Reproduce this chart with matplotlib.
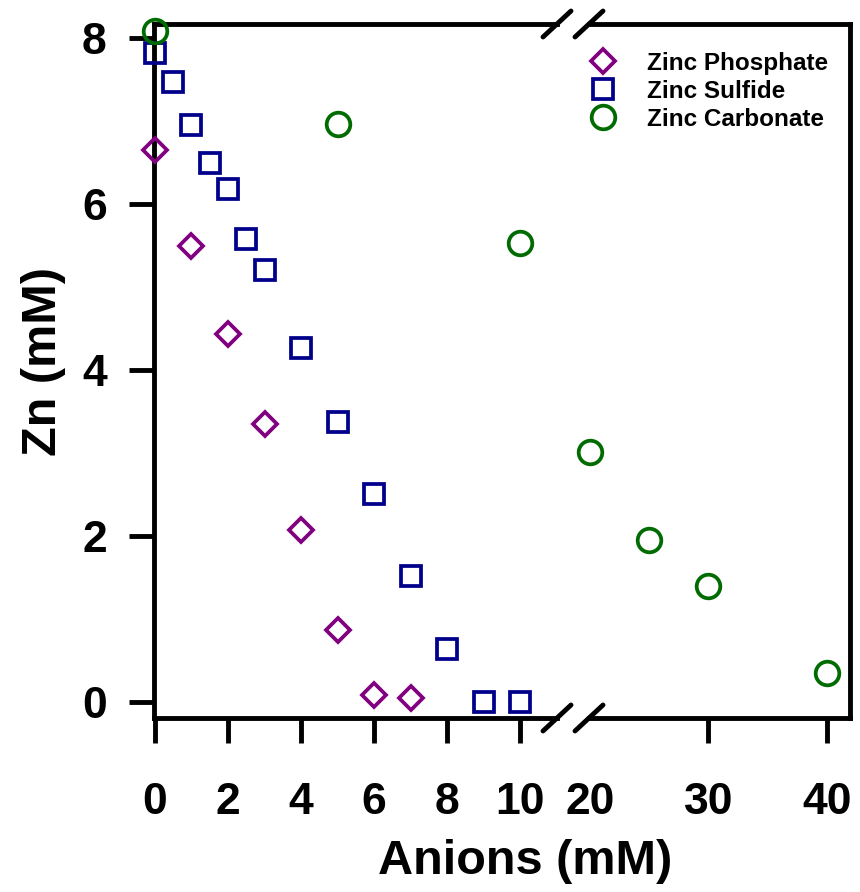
import numpy as np
import matplotlib
matplotlib.use("Agg")
import matplotlib.pyplot as plt
from matplotlib.lines import Line2D

plt.rcParams['font.family'] = ['Liberation Sans', 'DejaVu Sans']
plt.rcParams['font.weight'] = 'bold'

# data
phos_x = [0, 1, 2, 3, 4, 5, 6, 7]
phos_y = [6.65, 5.49, 4.43, 3.35, 2.07, 0.87, 0.09, 0.05]

sulf_x = [0, 0.5, 1, 1.5, 2, 2.5, 3, 4, 5, 6, 7, 8, 9, 10]
sulf_y = [7.82, 7.47, 6.95, 6.49, 6.18, 5.58, 5.21, 4.27, 3.37, 2.51, 1.52, 0.64, 0.0, 0.0]

carb_x = [0, 5, 10, 20, 25, 30, 40]
carb_y = [8.08, 6.96, 5.53, 3.01, 1.95, 1.40, 0.35]

left_ticks = [0, 2, 4, 6, 8, 10]
right_ticks = [20, 30, 40]
y_ticks = [0, 2, 4, 6, 8]

c_phos = '#800080'
c_sulf = '#00008b'
c_carb = '#006b00'

W, H = 860, 892
fig = plt.figure(figsize=(W / 100, H / 100), dpi=100)

bot = (H - 718) / H
hgt = (718 - 24) / H
ax1 = fig.add_axes([154 / W, bot, (557 - 154) / W, hgt])
ax2 = fig.add_axes([589 / W, bot, (850 - 589) / W, hgt], sharey=ax1)

lw = 3.5
mk = dict(linestyle='none', mfc='none', mew=2.7, clip_on=False, zorder=5)

cx = np.array(carb_x)
cy = np.array(carb_y)
lo = cx <= 15

ax1.plot(phos_x, phos_y, marker='D', ms=12.5, mec=c_phos, label='Zinc Phosphate', **mk)
ax1.plot(sulf_x, sulf_y, marker='s', ms=15, mec=c_sulf, label='Zinc Sulfide', **mk)
ax1.plot(cx[lo], cy[lo], marker='o', ms=17, mec=c_carb, label='Zinc Carbonate', **mk)
ax2.plot(cx[~lo], cy[~lo], marker='o', ms=17, mec=c_carb, **mk)

ax1.set_xlim(-0.027, 11.01)
ax2.set_xlim(19.92, 41.94)
ax1.set_ylim(-0.19, 8.17)

for ax in (ax1, ax2):
    for s in ax.spines.values():
        s.set_linewidth(lw)
    ax.tick_params(axis='both', direction='out', length=18, width=lw,
                   labelsize=32, pad=16)
    ax.tick_params(axis='x', pad=28)

ax1.spines['right'].set_visible(False)
ax2.spines['left'].set_visible(False)
ax1.set_xticks(left_ticks)
ax1.set_yticks(y_ticks)
ax2.set_xticks(right_ticks)
ax2.tick_params(axis='y', left=False, labelleft=False)
ax2.xaxis.get_major_ticks()[0].tick1line.set_visible(False)
for ax in (ax1, ax2):
    for lab in ax.get_xticklabels() + ax.get_yticklabels():
        lab.set_fontweight('bold')

# break marks
for by in (24, 718):
    for bx in (557, 589):
        fig.add_artist(Line2D([(bx - 14) / W, (bx + 14) / W],
                              [1 - (by + 13) / H, 1 - (by - 13) / H],
                              color='black', lw=lw, solid_capstyle='round'))

fig.text(525 / W, 1 - 861 / H, 'Anions (mM)', ha='center', va='center',
         fontsize=35, fontweight='bold')
fig.text(43 / W, 1 - 362 / H, 'Zn (mM)', ha='center', va='center',
         rotation=90, fontsize=35, fontweight='bold')

fig.legend(loc='upper left', bbox_to_anchor=(591 / W, 1 - 52 / H),
           frameon=False, handlelength=1.0, handletextpad=1.3,
           labelspacing=0.2, borderpad=0, borderaxespad=0,
           prop={'weight': 'bold', 'size': 17.5})

fig.savefig('out.png', dpi=100)
